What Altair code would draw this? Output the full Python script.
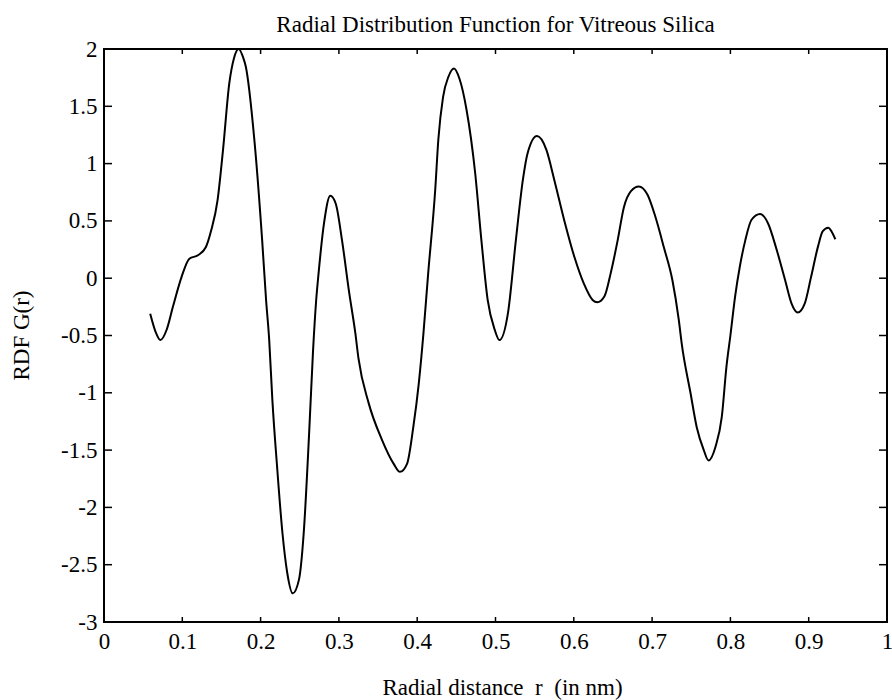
import altair as alt
import pandas as pd

# ---- data ----
r_nm = [0.059, 0.066, 0.072, 0.080, 0.088, 0.099, 0.109, 0.120, 0.130, 0.137,
        0.145, 0.152, 0.160, 0.166, 0.172, 0.178, 0.181, 0.192, 0.202, 0.207,
        0.211, 0.215, 0.221, 0.228, 0.234, 0.241, 0.249, 0.255, 0.262, 0.267,
        0.271, 0.274, 0.281, 0.289, 0.296, 0.304, 0.313, 0.321, 0.325, 0.338,
        0.355, 0.370, 0.378, 0.387, 0.395, 0.402, 0.408, 0.414, 0.423, 0.427,
        0.433, 0.440, 0.447, 0.454, 0.463, 0.474, 0.482, 0.490, 0.499, 0.505,
        0.516, 0.526, 0.535, 0.541, 0.553, 0.565, 0.575, 0.588, 0.601, 0.613,
        0.624, 0.630, 0.639, 0.647, 0.656, 0.664, 0.673, 0.683, 0.694, 0.704,
        0.715, 0.726, 0.734, 0.738, 0.749, 0.757, 0.766, 0.772, 0.781, 0.789,
        0.795, 0.800, 0.806, 0.812, 0.819, 0.827, 0.838, 0.848, 0.859, 0.870,
        0.878, 0.886, 0.895, 0.903, 0.912, 0.918, 0.925, 0.929, 0.934]
rdf = [-0.31, -0.47, -0.54, -0.45, -0.25, 0.01, 0.17, 0.20, 0.27, 0.42,
       0.68, 1.12, 1.70, 1.92, 2.00, 1.92, 1.85, 1.21, 0.33, -0.19,
       -0.54, -1.06, -1.64, -2.23, -2.57, -2.75, -2.63, -2.23, -1.35, -0.63,
       -0.19, 0.04, 0.48, 0.72, 0.65, 0.33, -0.12, -0.48, -0.70, -1.09,
       -1.41, -1.62, -1.69, -1.62, -1.30, -0.92, -0.48, 0.04, 0.77, 1.21,
       1.58, 1.76, 1.83, 1.74, 1.47, 0.92, 0.33, -0.19, -0.45, -0.54,
       -0.30, 0.33, 0.86, 1.09, 1.24, 1.12, 0.86, 0.50, 0.18, -0.05,
       -0.19, -0.21, -0.16, 0.04, 0.33, 0.62, 0.76, 0.80, 0.73, 0.54,
       0.27, -0.02, -0.36, -0.58, -1.00, -1.30, -1.50, -1.59, -1.47, -1.21,
       -0.77, -0.50, -0.16, 0.10, 0.33, 0.51, 0.56, 0.48, 0.25, -0.02,
       -0.22, -0.30, -0.22, 0.01, 0.28, 0.41, 0.44, 0.41, 0.34]

x_ticks = [0, 0.1, 0.2, 0.3, 0.4, 0.5, 0.6, 0.7, 0.8, 0.9, 1]
y_ticks = [-3, -2.5, -2, -1.5, -1, -0.5, 0, 0.5, 1, 1.5, 2]

title_text = "Radial Distribution Function for Vitreous Silica"
x_title = "Radial distance\u00a0\u00a0r\u00a0\u00a0(in nm)"
y_title = "RDF G(r)"

# ---- layout ----
W, H = 783, 573
FONT = "Liberation Serif"
FS = 23

df = pd.DataFrame({"r": r_nm, "g": rdf})
xt = pd.DataFrame({"r": x_ticks[1:-1]})
yt = pd.DataFrame({"g": y_ticks[1:-1]})

xscale = alt.Scale(domain=[x_ticks[0], x_ticks[-1]], nice=False, zero=False)
yscale = alt.Scale(domain=[y_ticks[0], y_ticks[-1]], nice=False, zero=False)

xaxis = alt.Axis(values=x_ticks, title=x_title, grid=False, ticks=False, domain=False,
                 labelFlush=False, labelOverlap=False, labelPadding=8,
                 labelExpr="'' + datum.value",
                 labelFont=FONT, labelFontSize=FS, labelColor="black",
                 titleFont=FONT, titleFontSize=FS, titleFontWeight="normal", titleColor="black",
                 titleBaseline="alphabetic", titleY=72, titleX=398)
yaxis = alt.Axis(values=y_ticks, title=y_title, grid=False, ticks=False, domain=False,
                 labelFlush=False, labelOverlap=False, labelPadding=7,
                 labelExpr="'' + datum.value",
                 labelFont=FONT, labelFontSize=FS, labelColor="black",
                 titleFont=FONT, titleFontSize=FS, titleFontWeight="normal", titleColor="black",
                 titleBaseline="alphabetic", titleAngle=-90, titleX=-76, titleY=286,
                 titleAlign="center")

line = alt.Chart(df).mark_line(color="black", strokeWidth=2, interpolate="monotone").encode(
    x=alt.X("r:Q", scale=xscale, axis=xaxis),
    y=alt.Y("g:Q", scale=yscale, axis=yaxis),
)

tick_style = dict(color="black", strokeWidth=1.5)
bottom_ticks = alt.Chart(xt).mark_rule(**tick_style).encode(
    x=alt.X("r:Q", scale=xscale, axis=xaxis), y=alt.value(H - 0.5), y2=alt.value(H - 5))
top_ticks = alt.Chart(xt).mark_rule(**tick_style).encode(
    x=alt.X("r:Q", scale=xscale, axis=xaxis), y=alt.value(0.5), y2=alt.value(5))
left_ticks = alt.Chart(yt).mark_rule(**tick_style).encode(
    y=alt.Y("g:Q", scale=yscale, axis=yaxis), x=alt.value(0.5), x2=alt.value(8))
right_ticks = alt.Chart(yt).mark_rule(**tick_style).encode(
    y=alt.Y("g:Q", scale=yscale, axis=yaxis), x=alt.value(W - 0.5), x2=alt.value(W - 8))

chart = alt.layer(line, bottom_ticks, top_ticks, left_ticks, right_ticks).properties(
    width=W, height=H,
    background="white",
    title=alt.Title(title_text, font=FONT, fontSize=23, fontWeight="normal", color="black",
                    anchor="middle", baseline="alphabetic", offset=6, dy=23),
    autosize=alt.AutoSizeParams(type="none"),
    padding={"left": 104, "top": 49, "right": 5, "bottom": 78},
).configure_view(stroke="black", strokeWidth=2)

chart.save("out.html", embed_options={"renderer": "svg", "actions": False})
